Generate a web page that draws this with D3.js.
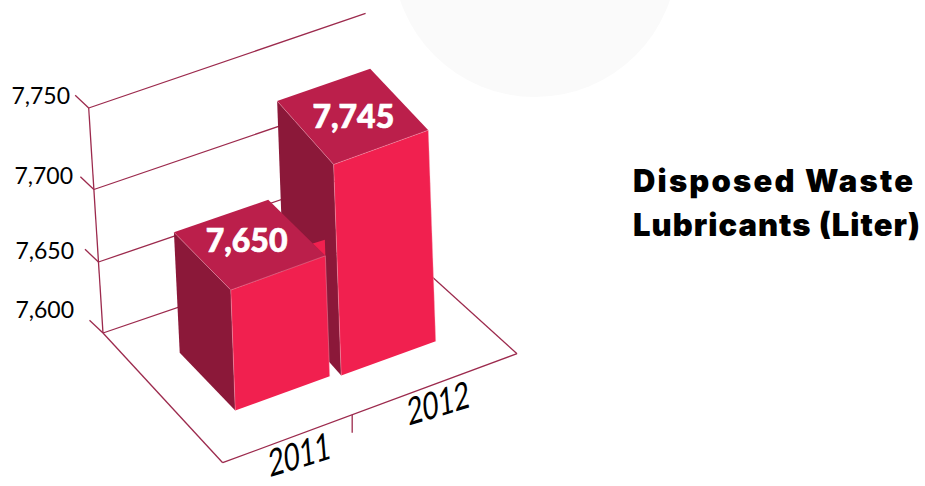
<!DOCTYPE html>
<html><head><meta charset="utf-8">
<script src="https://cdn.jsdelivr.net/npm/d3@7"></script>
<style>html,body{margin:0;padding:0;background:#fff}svg{display:block}text{font-family:Lato,sans-serif}</style>
</head><body><svg id="c" width="925" height="486"></svg>
<script>
// ---- data
const categories = ["2011", "2012"];
const values = [7650, 7745];
const yTicks = [7600, 7650, 7700, 7750];
const titleLines = ["Disposed Waste", "Lubricants (Liter)"];

// ---- layout of the perspective box
const floorA = [103, 333], floorB = [387, 236], floorC = [517, 353.7], floorD = [222.7, 462.7];
const colors = {front: "#f1204f", top: "#bb1f4b", side: "#8b1839", line: "#9c2a4d", seam: "#f8b9c8", disc: "#fafafa"};
const titleWidths = [280, 287];

const svg = d3.select("#c");
const project = (u, v) => [0, 1].map(i =>
  floorA[i]*(1-u)*(1-v) + floorB[i]*u*(1-v) + floorC[i]*u*v + floorD[i]*(1-u)*v);
// verticals converge slightly toward the bottom of the picture
const drift = d3.scaleLinear().domain([103, 235, 435]).range([0.0636, 0.037, 0.035]).clamp(true);
const lift = (p, h) => [p[0] - drift(p[0]) * h, p[1] - h];

const uScale = d3.scaleBand().domain(categories).range([0.156, 0.835]).paddingInner(0.087);
const vBack = d3.scaleOrdinal().domain(categories).range([0.272, 0.248]);
const vFront = d3.scaleOrdinal().domain(categories).range([0.725, 0.745]);
const uSkew = d3.scaleOrdinal().domain(categories).range([-0.002, 0.02]);
const barH = d3.scaleLinear().domain([7650, 7745]).range([120.5, 211]);
const wallH = d3.scaleLinear().domain(yTicks).range([0, 71, 143.5, 225]);
const gridLen = d3.scaleLinear().domain([0, 225]).range([1, 0.975]);
const labelY = d3.scaleLinear().domain(yTicks).range([309, 250, 175, 95]);
const labelX = d3.scaleLinear().domain(yTicks).range([74, 74, 73, 70]);
const catLabelU = d3.scalePoint().domain(categories).range([0.265, 0.7366]);

// background disc
svg.append("circle").attr("cx", 535).attr("cy", -45.4).attr("r", 142.4).attr("fill", colors.disc);

const line = (a, b, w) => svg.append("line").attr("x1", a[0]).attr("y1", a[1]).attr("x2", b[0]).attr("y2", b[1])
  .attr("stroke", colors.line).attr("stroke-width", w || 1.3);

// back wall
const wallBase = project(0, 0), wallEnd = project(1, 0);
yTicks.forEach(t => {
  const h = wallH(t), p = lift(wallBase, h), k = gridLen(h);
  line(p, [p[0] + (wallEnd[0] - wallBase[0]) * k, p[1] + (wallEnd[1] - wallBase[1]) * k]);
  line(p, [p[0] - 13.5, p[1] - 12.7]);
  svg.append("text").attr("x", labelX(t)).attr("y", labelY(t)).attr("text-anchor", "end")
    .attr("dominant-baseline", "central").attr("font-size", 23).attr("fill", "#000")
    .text(d3.format(",")(t));
});
line(wallBase, lift(wallBase, wallH(7750)));

// floor
line(project(0,0), project(0,1));
line(project(0,1), project(1,1));
line(project(1,1), project(1,0));
const divider = project(0.44, 1);
line(divider, [divider[0], divider[1] + 18]);

// category labels
categories.forEach(c => {
  const p = project(catLabelU(c), 1);
  svg.append("text").attr("transform", `translate(${p[0]},${p[1]+34}) rotate(-17) skewX(-12) scale(.87,1.15)`)
    .attr("text-anchor", "middle").attr("font-size", 32).attr("fill", "#000").text(c);
});

// bars, back to front
const path = pts => "M" + pts.map(p => p.join(",")).join("L") + "Z";
const order = [1, 0];
const valueDx = [-3, 1], valueDy = [-5, -1];
order.forEach(i => {
  const c = categories[i], u0 = uScale(c), u1 = u0 + uScale.bandwidth(), h = barH(values[i]);
  const v0 = vBack(c), v1 = vFront(c), s = uSkew(c);
  const BL = project(u0 + s, v0), BR = project(u1 + s, v0), FL = project(u0, v1), FR = project(u1, v1);
  const tBL = lift(BL, h), tBR = lift(BR, h), tFL = lift(FL, h), tFR = lift(FR, h);
  const g = svg.append("g");
  g.append("path").attr("d", path([tBL, tFL, FL, BL])).attr("fill", colors.side);
  g.append("path").attr("d", path([tBL, tBR, tFR, tFL])).attr("fill", colors.top);
  g.append("path").attr("d", path([tFL, tFR, FR, FL])).attr("fill", colors.front);
  if (i === 0) {
    // small bright sliver behind the far corner of the shorter bar
    const a = [tBR[0] + (tFR[0] - tBR[0]) * 0.78, tBR[1] + (tFR[1] - tBR[1]) * 0.78];
    g.append("path").attr("d", path([a, [tFR[0] - 0.5, tFR[1] - 16], tFR])).attr("fill", colors.front);
  }
  [[tFL, FL], [tFL, tFR], [tBL, tFL], [tFR, FR]].forEach(([a, b]) =>
    g.append("line").attr("x1", a[0]).attr("y1", a[1]).attr("x2", b[0]).attr("y2", b[1])
      .attr("stroke", colors.seam).attr("stroke-width", 0.6).attr("stroke-opacity", 0.6));
  const cx = (tBL[0] + tBR[0] + tFL[0] + tFR[0]) / 4, cy = (tBL[1] + tBR[1] + tFL[1] + tFR[1]) / 4;
  g.append("text").attr("x", cx + valueDx[i]).attr("y", cy + valueDy[i]).attr("text-anchor", "middle")
    .attr("dominant-baseline", "central").attr("font-size", 32).attr("font-weight", 900).attr("fill", "#fff")
    .attr("stroke", "#fff").attr("stroke-width", 0.7)
    .text(d3.format(",")(values[i]));
});

// title
titleLines.forEach((t, i) => svg.append("text").attr("x", 633).attr("y", 192 + i * 44)
  .style("font-family", "Inter, sans-serif").attr("font-size", 31).attr("font-weight", 900)
  .attr("textLength", titleWidths[i]).attr("lengthAdjust", "spacing")
  .attr("fill", "#000").text(t));
</script></body></html>
